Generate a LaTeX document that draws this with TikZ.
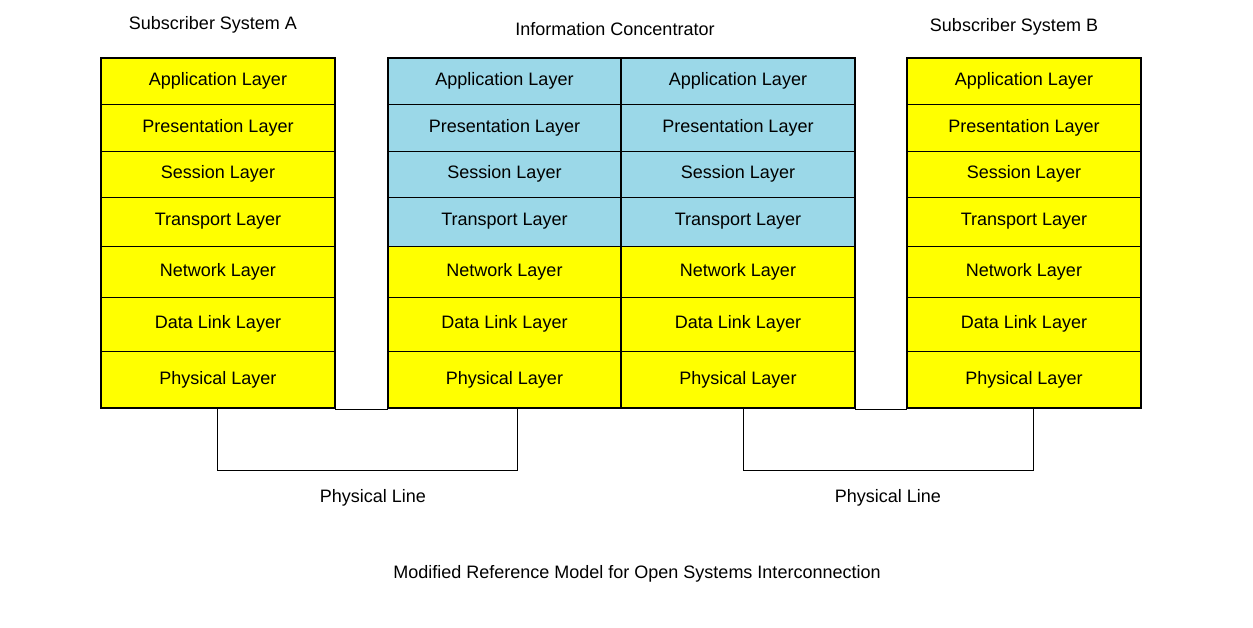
\documentclass[tikz,border=0pt]{standalone}
\usepackage{fontspec}
\setmainfont{Liberation Sans}
\definecolor{ly}{HTML}{FFFF00}
\definecolor{lb}{HTML}{9BD8E8}
\begin{document}
\begin{tikzpicture}[x=1pt,y=-1pt,
  lay/.style={draw=black,line width=0.8pt,font=\fontsize{18}{20}\selectfont,inner sep=0pt},
  lbl/.style={font=\fontsize{18}{20}\selectfont},
  thin/.style={line width=0.6pt}]
\useasboundingbox (0,0) rectangle (1253,628);
\def\ys{58,104,151,197,246,297,351,408}
\newcommand{\stack}[4]{% x0, x1, prefix, nblue
  \foreach \a/\b/\t [count=\i] in {58/104/Application Layer,104/151/Presentation Layer,151/197/Session Layer,197/246/Transport Layer,246/297/Network Layer,297/351/Data Link Layer,351/408/Physical Layer}{
    \ifnum\i>#4 \def\c{ly}\else\def\c{lb}\fi
    \path[fill=\c,draw=black,line width=0.8pt] (#1,\a) rectangle (#2,\b);
    \node[lbl] (#3\i) at ({(#1+#2)/2},{(\a+\b)/2}) {\t};
  }
  \draw[line width=2.2pt] (#1,58) rectangle (#2,408);
}
\stack{101}{335}{a}{0}
\stack{388}{621}{m}{4}
\stack{621}{855}{n}{4}
\stack{907}{1141}{b}{0}
\draw[line width=2.2pt] (388,58) rectangle (855,408);
\node[lbl] (ta) at (213,25) {Subscriber System A};
\node[lbl] (tm) at (615,29) {Information Concentrator};
\node[lbl] (tb) at (1014,27) {Subscriber System B};
\draw[thin] (335,409) -- (388,409);
\draw[thin] (855,409) -- (907,409);
\draw[thin] (217,409) -- (217,470) -- (517,470) -- (517,409);
\draw[thin] (743,409) -- (743,470) -- (1033,470) -- (1033,409);
\node[lbl] (pl1) at (373,498) {Physical Line};
\node[lbl] (pl2) at (888,498) {Physical Line};
\node[lbl] (cap) at (637,574) {Modified Reference Model for Open Systems Interconnection};
\end{tikzpicture}
\end{document}
